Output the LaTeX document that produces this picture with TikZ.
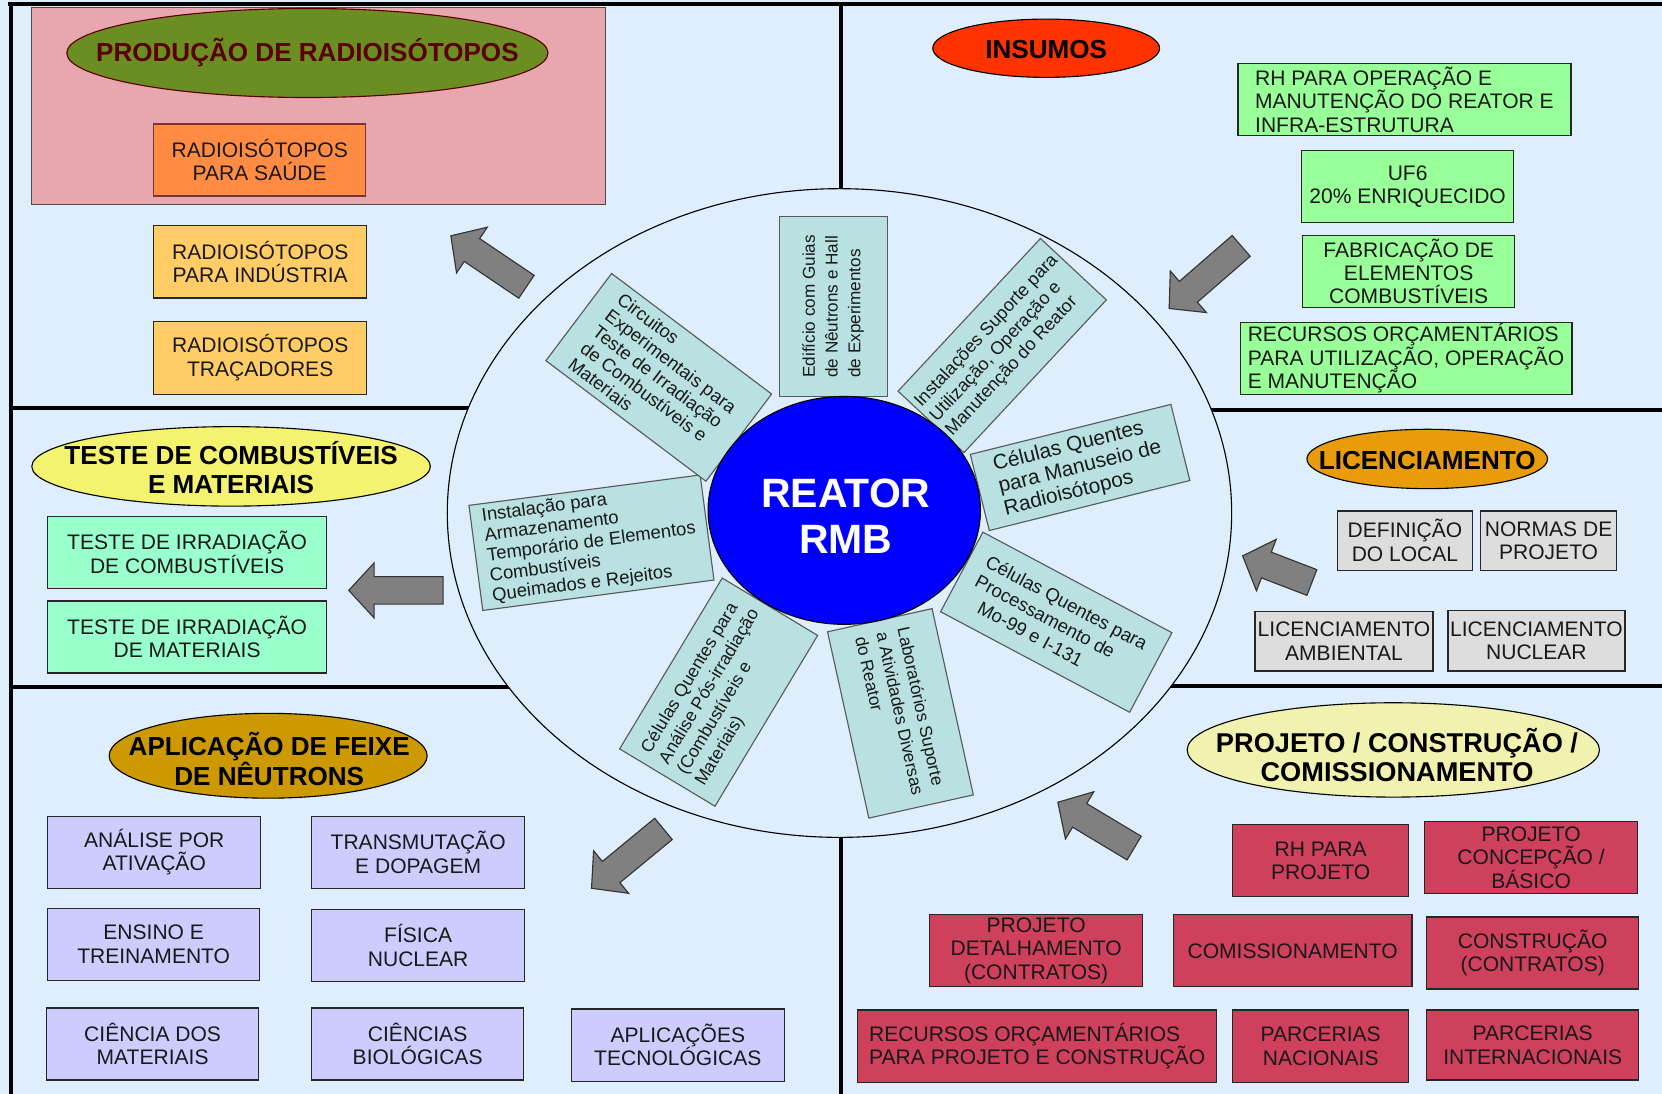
\documentclass[tikz,border=0pt]{standalone}
\usepackage{fontspec}
\setmainfont{Liberation Sans}
\usetikzlibrary{shapes.geometric}

\definecolor{bg}{RGB}{222,238,252}
\definecolor{pinkbg}{RGB}{232,166,174}
\definecolor{olivecol}{RGB}{107,142,35}
\definecolor{darkredcol}{RGB}{90,0,0}
\definecolor{orangebox}{RGB}{255,140,66}
\definecolor{yellowbox}{RGB}{255,204,102}
\definecolor{mint}{RGB}{153,255,204}
\definecolor{yellowell}{RGB}{243,243,112}
\definecolor{goldcol}{RGB}{204,153,0}
\definecolor{lav}{RGB}{204,204,255}
\definecolor{insred}{RGB}{255,51,0}
\definecolor{lgreen}{RGB}{153,255,153}
\definecolor{licor}{RGB}{232,156,12}
\definecolor{lgray}{RGB}{221,221,221}
\definecolor{paleyel}{RGB}{242,242,176}
\definecolor{crimsoncol}{RGB}{206,64,92}
\definecolor{rteal}{RGB}{185,225,226}
\definecolor{reactorblue}{RGB}{0,0,255}
\definecolor{arrowgray}{RGB}{128,128,128}
\definecolor{txt}{RGB}{25,25,25}

% box by corners: name, x1, y1, x2, y2, style, text
\newcommand\bx[7]{\node[box,#6,minimum width={0.02cm*(#4-#2)},minimum height={0.02cm*(#5-#3)}] (#1) at ({(#2+#4)/2},{(#3+#5)/2}) {#7};}
% radial box: name, cx, cy, angle, L, S, fontsize, leading, text
\newcommand\rbx[9]{\node[rbox,rotate=#4,minimum width={0.02cm*#5},minimum height={0.02cm*#6},font=\fontsize{#7}{#8}\selectfont] (#1) at (#2,#3) {#9};}
% block arrow: cx, cy, angle, length
\newcommand\barrow[4]{%
  \begin{scope}[shift={(#1,#2)},rotate=#3]
    \draw[blockarr] ({-#4/2},-13) -- ({#4/2-24},-13) -- ({#4/2-24},-26) -- ({#4/2},0)
      -- ({#4/2-24},26) -- ({#4/2-24},13) -- ({-#4/2},13) -- cycle;
  \end{scope}}

\begin{document}
\begin{tikzpicture}[x=0.02cm,y=-0.02cm,
  box/.style={draw=black!85,line width=0.7pt,inner sep=0pt,align=center,text=txt,
    font=\fontsize{11.3}{12.6}\selectfont},
  rbox/.style={draw=black!65,fill=rteal,line width=0.6pt,inner sep=0pt,align=left,text=txt},
  ell/.style={ellipse,draw=black,line width=0.6pt,inner sep=0pt},
  ttl/.style={font=\bfseries\fontsize{14}{15.5}\selectfont,align=center,inner sep=0pt,text=black},
  pline/.style={line width=2.2pt,black},
  blockarr/.style={fill=arrowgray,draw=black!80,line width=0.6pt,line join=miter}]
\useasboundingbox (0,0) rectangle (1568,1032);
\fill[bg] (0,0) rectangle (1568,1032);

% panel dividers
\draw[pline] (8,4) -- (1568,4);
\draw[pline] (10,4) -- (10,1032);
\draw[pline] (10,385) -- (500,385);
\draw[pline] (12,648) -- (520,648);
\draw[pline] (793,4) -- (793,250);
\draw[pline] (1100,387) -- (1568,387);
\draw[pline] (1050,647) -- (1568,647);
\draw[pline] (793,700) -- (793,1032);

% pink production panel
\fill[pinkbg,draw=black!70,line width=0.6pt] (30,7) rectangle (571,193);

% central ring
\node[ell,fill=bg,minimum width={0.02cm*740},minimum height={0.02cm*612}] (ring) at (792,484) {};

% radial boxes
\rbx{r1}{786}{289}{90}{170}{102}{9.2}{12.2}{Edifício com Guias\\de Nêutrons e Hall\\de Experimentos}
\rbx{r2}{945.5}{326}{47}{197}{85}{9.7}{11.4}{Instalações Suporte para\\Utilização, Operação e\\Manutenção do Reator}
\rbx{r3}{1019}{441}{14}{195}{74}{11.2}{12.2}{Células Quentes\\para Manuseio de\\Radioisótopos}
\rbx{r4}{996.5}{587}{-28}{202}{85}{10}{12}{Células Quentes para\\Processamento de\\\hspace*{0.8em}Mo-99 e I-131}
\rbx{r5}{849.5}{673}{-77.5}{180}{101}{9.3}{11.6}{Laboratórios Suporte\\a Atividades Diversas\\do Reator}
\rbx{r6}{678}{653}{59}{188}{105}{9.5}{11.3}{Células Quentes para\\Análise Pós-irradiação\\(Combustíveis e\\Materiais)}
\rbx{r7}{558}{512}{7.5}{220}{100}{9.9}{10.8}{Instalação para\\Armazenamento\\Temporário de Elementos\\Combustíveis\\Queimados e Rejeitos}
\rbx{r8}{621.5}{356}{-37}{189}{103}{9.9}{10.9}{Circuitos\\Experimentais para\\Teste de Irradiação\\de Combustíveis e\\Materiais}

% reactor
\node[ell,fill=reactorblue,minimum width={0.02cm*257},minimum height={0.02cm*215}] (reactor) at (796.5,481.5) {};
\node[inner sep=0pt,align=center,text=white,font=\bfseries\fontsize{22}{25}\selectfont] (reactortxt) at (798,487) {REATOR\\RMB};

% --- PRODUCAO DE RADIOISOTOPOS
\node[ell,draw=darkredcol,fill=olivecol,minimum width={0.02cm*454},minimum height={0.02cm*84}] (tprod) at (290,50) {};
\node[ttl,text=darkredcol] (tprodtxt) at (290,50) {PRODUÇÃO DE RADIOISÓTOPOS};
\bx{saude}{145}{117}{345}{185}{fill=orangebox,draw=darkredcol!80}{RADIOISÓTOPOS\\PARA SAÚDE}
\bx{ind}{145}{213}{346}{281}{fill=yellowbox}{RADIOISÓTOPOS\\PARA INDÚSTRIA}
\bx{trac}{145}{303}{346}{372}{fill=yellowbox}{RADIOISÓTOPOS\\TRAÇADORES}

% --- TESTE DE COMBUSTIVEIS
\node[ell,fill=yellowell,minimum width={0.02cm*376},minimum height={0.02cm*75}] (tteste) at (218,440) {};
\node[ttl] (ttestetxt) at (218,441) {TESTE DE COMBUSTÍVEIS\\E MATERIAIS};
\bx{tc1}{45}{487}{308}{555}{fill=mint}{TESTE DE IRRADIAÇÃO\\DE COMBUSTÍVEIS}
\bx{tc2}{45}{567}{308}{635}{fill=mint}{TESTE DE IRRADIAÇÃO\\DE MATERIAIS}

% --- APLICACAO DE FEIXE
\node[ell,fill=goldcol,minimum width={0.02cm*300},minimum height={0.02cm*80}] (tapl) at (253,713) {};
\node[ttl,font=\bfseries\fontsize{14}{15}\selectfont] (tapltxt) at (254,716) {APLICAÇÃO DE FEIXE\\DE NÊUTRONS};
\bx{an}{45}{770}{246}{838}{fill=lav}{ANÁLISE POR\\ATIVAÇÃO}
\bx{tr}{294}{770}{495}{838}{fill=lav}{TRANSMUTAÇÃO\\E DOPAGEM}
\bx{en}{45}{857}{245}{925}{fill=lav}{ENSINO E\\TREINAMENTO}
\bx{fis}{294}{858}{495}{926}{fill=lav}{FÍSICA\\NUCLEAR}
\bx{cm}{44}{951}{244}{1019}{fill=lav}{CIÊNCIA DOS\\MATERIAIS}
\bx{cb}{294}{951}{494}{1019}{fill=lav}{CIÊNCIAS\\BIOLÓGICAS}
\bx{at}{539}{952}{740}{1020}{fill=lav}{APLICAÇÕES\\TECNOLÓGICAS}

% --- INSUMOS
\node[ell,fill=insred,minimum width={0.02cm*214},minimum height={0.02cm*55}] (tins) at (987,45.5) {};
\node[ttl] (tinstxt) at (987,47) {INSUMOS};
\bx{rh}{1168}{60}{1482}{128}{fill=lgreen,align=left}{RH PARA OPERAÇÃO E\\MANUTENÇÃO DO REATOR E\\INFRA-ESTRUTURA}
\bx{uf6}{1228}{142}{1428}{210}{fill=lgreen}{UF6\\20\% ENRIQUECIDO}
\bx{fab}{1229}{222}{1429}{290}{fill=lgreen}{FABRICAÇÃO DE\\ELEMENTOS\\COMBUSTÍVEIS}
\bx{rec}{1170}{304}{1483}{372}{fill=lgreen,align=left}{RECURSOS ORÇAMENTÁRIOS\\PARA UTILIZAÇÃO, OPERAÇÃO\\E MANUTENÇÃO}

% --- LICENCIAMENTO
\node[ell,fill=licor,minimum width={0.02cm*227},minimum height={0.02cm*56}] (tlic) at (1346.5,433) {};
\node[ttl] (tlictxt) at (1346.5,434) {LICENCIAMENTO};
\bx{def}{1262}{482}{1389}{538}{fill=lgray}{DEFINIÇÃO\\DO LOCAL}
\bx{nor}{1397}{482}{1525}{538}{fill=lgray}{NORMAS DE\\PROJETO}
\bx{lamb}{1184}{577}{1352}{633}{fill=lgray}{LICENCIAMENTO\\AMBIENTAL}
\bx{lnuc}{1366}{576}{1533}{633}{fill=lgray}{LICENCIAMENTO\\NUCLEAR}

% --- PROJETO / CONSTRUCAO
\node[ell,fill=paleyel,minimum width={0.02cm*389},minimum height={0.02cm*89}] (tproj) at (1314.5,707.5) {};
\node[ttl,font=\bfseries\fontsize{14.6}{15.5}\selectfont] (tprojtxt) at (1318,712) {PROJETO / CONSTRUÇÃO /\\COMISSIONAMENTO};
\bx{rhp}{1163}{778}{1329}{846}{fill=crimsoncol}{RH PARA\\PROJETO}
\bx{conc}{1344}{775}{1545}{843}{fill=crimsoncol}{PROJETO\\CONCEPÇÃO /\\BÁSICO}
\bx{det}{877}{863}{1078}{931}{fill=crimsoncol}{PROJETO\\DETALHAMENTO\\(CONTRATOS)}
\bx{com}{1107}{863}{1332}{931}{fill=crimsoncol}{COMISSIONAMENTO}
\bx{cons}{1346}{865}{1546}{933}{fill=crimsoncol}{CONSTRUÇÃO\\(CONTRATOS)}
\bx{recp}{809}{953}{1148}{1021}{fill=crimsoncol,align=left}{RECURSOS ORÇAMENTÁRIOS\\PARA PROJETO E CONSTRUÇÃO}
\bx{pn}{1163}{953}{1329}{1021}{fill=crimsoncol}{PARCERIAS\\NACIONAIS}
\bx{pi}{1346}{953}{1546}{1019}{fill=crimsoncol}{PARCERIAS\\INTERNACIONAIS}

% block arrows
\barrow{461}{246.5}{146}{86}
\barrow{1137}{261.5}{221}{90}
\barrow{373.5}{557}{180}{89}
\barrow{1205}{537}{159}{70}
\barrow{1034}{778.5}{149}{84}
\barrow{592}{810}{219.5}{88}
\end{tikzpicture}
\end{document}
